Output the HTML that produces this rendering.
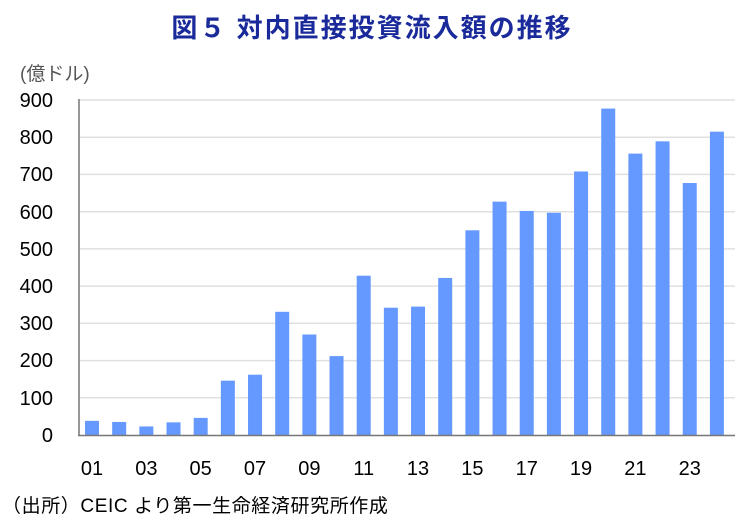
<!DOCTYPE html>
<html><head><meta charset="utf-8"><style>
body{margin:0;background:#fff;width:740px;height:520px;overflow:hidden}
svg text{font-family:"Liberation Sans","Noto Sans CJK JP",sans-serif}
</style></head><body>
<svg width="740" height="520" viewBox="0 0 740 520" xmlns="http://www.w3.org/2000/svg">
<text x="372" y="37" text-anchor="middle" font-size="26" font-weight="bold" fill="#1a2a9a" letter-spacing="2">図５ 対内直接投資流入額の推移</text>
<text x="20" y="80" font-size="19" fill="#555">(億ドル)</text>
<g stroke="#e0e0e0" stroke-width="1.5">
<line x1="79" x2="735" y1="100" y2="100"/><line x1="79" x2="735" y1="137.2" y2="137.2"/>
<line x1="79" x2="735" y1="174.4" y2="174.4"/><line x1="79" x2="735" y1="211.7" y2="211.7"/>
<line x1="79" x2="735" y1="248.9" y2="248.9"/><line x1="79" x2="735" y1="286.1" y2="286.1"/>
<line x1="79" x2="735" y1="323.3" y2="323.3"/><line x1="79" x2="735" y1="360.6" y2="360.6"/>
<line x1="79" x2="735" y1="397.8" y2="397.8"/>
</g>
<g font-size="20" fill="#000" text-anchor="end">
<text x="53" y="107">900</text><text x="53" y="144">800</text><text x="53" y="181">700</text>
<text x="53" y="219">600</text><text x="53" y="256">500</text><text x="53" y="293">400</text>
<text x="53" y="330">300</text><text x="53" y="367">200</text><text x="53" y="405">100</text>
<text x="53" y="442">0</text>
</g>
<g fill="#6699ff" id="bars"></g>
<line x1="79" x2="79" y1="99" y2="436" stroke="#777" stroke-width="1.5"/>
<line x1="78" x2="735" y1="435.5" y2="435.5" stroke="#777" stroke-width="1.5"/>
<g font-size="20" fill="#000" text-anchor="middle" id="xl"></g>
<text x="2" y="512" font-size="19" fill="#000" letter-spacing="0.6">（出所）CEIC より第一生命経済研究所作成</text>
<script>
var v=[38,35,23,34,46,146,162,331,270,212,428,342,345,422,550,627,602,597,708,877,756,789,677,815];
var b=document.getElementById('bars'),xl=document.getElementById('xl'),ns='http://www.w3.org/2000/svg';
for(var i=0;i<24;i++){var cx=92+i*27.17,h=v[i]*0.3722;
var r=document.createElementNS(ns,'rect');r.setAttribute('x',cx-7);r.setAttribute('width',14);
r.setAttribute('y',435-h);r.setAttribute('height',h);b.appendChild(r);
if(i%2==0){var t=document.createElementNS(ns,'text');t.setAttribute('x',cx);t.setAttribute('y',475);
t.textContent=(i+1<10?'0':'')+(i+1);xl.appendChild(t);}}
</script>
</svg>
</body></html>
